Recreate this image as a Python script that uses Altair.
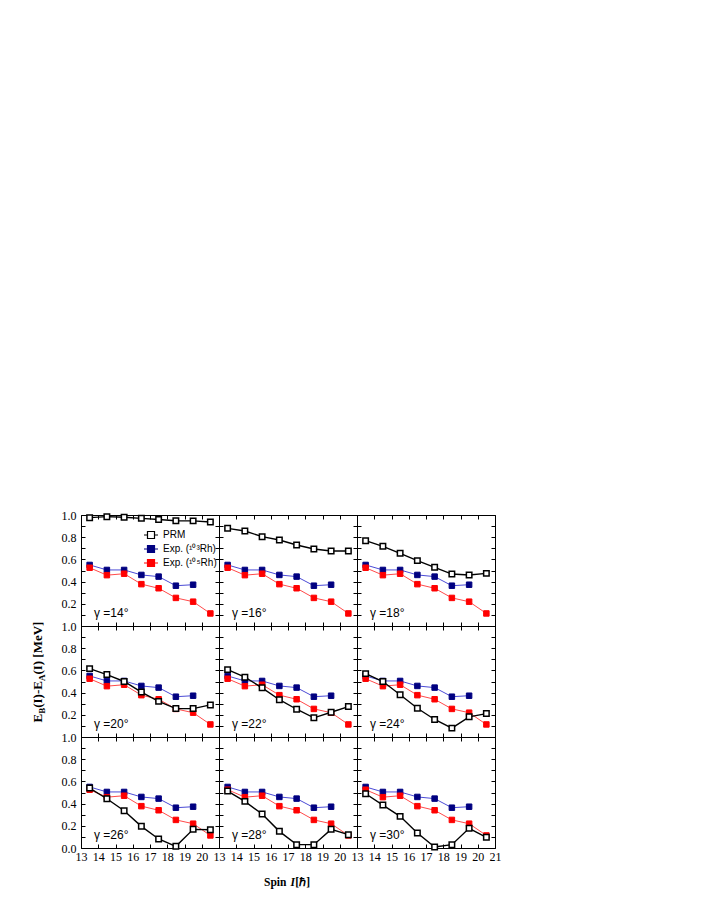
import altair as alt
import pandas as pd

# ---------------- data ----------------
spins = [13.5, 14.5, 15.5, 16.5, 17.5, 18.5, 19.5, 20.5]
exp103 = [0.55, 0.505, 0.505, 0.46, 0.445, 0.363, 0.372]
exp105 = [0.525, 0.458, 0.471, 0.377, 0.34, 0.253, 0.219, 0.113]
gammas = [14, 16, 18, 20, 22, 24, 26, 28, 30]
prm_14 = [0.976, 0.985, 0.98, 0.97, 0.96, 0.948, 0.947, 0.937]
prm_16 = [0.88, 0.856, 0.805, 0.775, 0.73, 0.694, 0.676, 0.676]
prm_18 = [0.769, 0.718, 0.655, 0.589, 0.529, 0.468, 0.459, 0.474]
prm_20 = [0.616, 0.5625, 0.5, 0.405, 0.321, 0.256, 0.256, 0.289]
prm_22 = [0.607, 0.539, 0.443, 0.336, 0.25, 0.173, 0.223, 0.274]
prm_24 = [0.571, 0.5, 0.381, 0.259, 0.158, 0.08, 0.182, 0.211]
prm_26 = [0.54, 0.444, 0.336, 0.195, 0.081, 0.015, 0.168, 0.165]
prm_28 = [0.513, 0.42, 0.306, 0.15, 0.03, 0.03, 0.168, 0.12]
prm_30 = [0.489, 0.387, 0.285, 0.135, 0.009, 0.03, 0.177, 0.096]
prm_all = [prm_14, prm_16, prm_18, prm_20, prm_22, prm_24, prm_26, prm_28, prm_30]

series_names = ["PRM", "Exp. (¹⁰³Rh)", "Exp. (¹⁰⁵Rh)"]
x_ticks = [13, 14, 15, 16, 17, 18, 19, 20, 21]
y_ticks = [0.0, 0.1, 0.2, 0.3, 0.4, 0.5, 0.6, 0.7, 0.8, 0.9, 1.0]

# ---------------- tables ----------------
exp103_df = pd.DataFrame({"spin": spins[:len(exp103)], "value": exp103, "series": series_names[1]})
exp105_df = pd.DataFrame({"spin": spins, "value": exp105, "series": series_names[2]})
exp_df = pd.concat([exp103_df, exp105_df], ignore_index=True)

W, H = 138, 111
SERIF = "Liberation Serif"
SANS = "Liberation Sans"
BLUE_LINE = "#4b4bd6"
RED_LINE = "#ff4a4a"

fill_scale = alt.Scale(domain=series_names, range=["white", "#000080", "#ff0000"])
stroke_scale = alt.Scale(domain=series_names, range=["black", "#000080", "#ff0000"])
xs = alt.Scale(domain=[13, 21], nice=False, zero=False)
ys = alt.Scale(domain=[0, 1], nice=False, zero=False)

SYMBOL = "M -1 0 L -0.5 0 M 0.5 0 L 1 0 M -0.5 -0.5 L 0.5 -0.5 L 0.5 0.5 L -0.5 0.5 Z"
legend = alt.Legend(
    title=None, orient="none", legendX=62, legendY=12,
    symbolType=SYMBOL, symbolSize=196, symbolStrokeWidth=1.2,
    labelFont=SANS, labelFontSize=10, labelColor="black", labelOffset=4,
    rowPadding=-2, padding=0,
)


def x_axis(orient, labels, last_col):
    expr = "datum.label" if last_col else "datum.value == 21 ? '' : datum.label"
    return alt.Axis(
        orient=orient, offset=-4, tickSize=4, tickColor="black", tickWidth=1,
        domain=False, grid=False, values=x_ticks, labels=labels,
        labelExpr=expr, labelFlush=False, labelOverlap=False, labelPadding=3,
        labelFont=SERIF, labelFontSize=12, labelColor="black", title=None,
    )


def y_axis(orient, labels, bottom_row):
    cond = "" if bottom_row else " && datum.value > 0.05"
    expr = "(round(datum.value*10) % 2 == 0" + cond + ") ? format(datum.value, '.1f') : ''"
    return alt.Axis(
        orient=orient, offset=-4, tickSize=4, tickColor="black", tickWidth=1,
        domain=False, grid=False, values=y_ticks, labels=labels,
        labelExpr=expr, labelOverlap=False, labelPadding=5, labelFlush=False,
        labelFont=SERIF, labelFontSize=12, labelColor="black", title=None,
    )


panels = []
for i, g in enumerate(gammas):
    row, col = divmod(i, 3)
    left_col = col == 0
    bottom_row = row == 2
    last_col = col == 2
    leg = legend if i == 0 else None
    prm_df = pd.DataFrame({"spin": spins, "value": prm_all[i], "series": series_names[0]})

    line103 = alt.Chart(exp103_df).mark_line(strokeWidth=1, color=BLUE_LINE).encode(
        x=alt.X("spin:Q", scale=xs, axis=x_axis("bottom", bottom_row, last_col)),
        y=alt.Y("value:Q", scale=ys, axis=y_axis("left", left_col, bottom_row)),
    )
    line105 = alt.Chart(exp105_df).mark_line(strokeWidth=1, color=RED_LINE).encode(
        x=alt.X("spin:Q", scale=xs, axis=None),
        y=alt.Y("value:Q", scale=ys, axis=None),
    )
    exp_pts = alt.Chart(exp_df).mark_square(size=30, strokeWidth=1, opacity=1).encode(
        x=alt.X("spin:Q", scale=xs, axis=x_axis("top", False, last_col)),
        y=alt.Y("value:Q", scale=ys, axis=y_axis("right", False, bottom_row)),
        fill=alt.Fill("series:N", scale=fill_scale, legend=leg),
        stroke=alt.Stroke("series:N", scale=stroke_scale, legend=leg),
    )
    prm_line = alt.Chart(prm_df).mark_line(strokeWidth=1.4, color="black").encode(
        x=alt.X("spin:Q", scale=xs, axis=None),
        y=alt.Y("value:Q", scale=ys, axis=None),
    )
    prm_pts = alt.Chart(prm_df).mark_square(size=30, strokeWidth=1.5, opacity=1).encode(
        x=alt.X("spin:Q", scale=xs, axis=None),
        y=alt.Y("value:Q", scale=ys, axis=None),
        fill=alt.Fill("series:N", scale=fill_scale, legend=leg),
        stroke=alt.Stroke("series:N", scale=stroke_scale, legend=leg),
    )
    glabel = alt.Chart(pd.DataFrame({"t": [f"γ ={g}°"]})).mark_text(
        align="left", baseline="alphabetic", font=SANS, fontSize=12, color="black"
    ).encode(x=alt.value(13), y=alt.value(102), text="t:N")

    layers = [line103, line105, exp_pts, prm_line, prm_pts, glabel]

    if i == 3:  # y title on middle-left panel
        pieces = [("E", 13, 0, -50.5), ("B", 9, 4, -41.8), ("(I)-E", 13, 0, -35.8),
                  ("A", 9, 4, -9.1), ("(I) [MeV]", 13, 0, -2.6)]
        for txt, fs, dy, dx in pieces:
            layers.append(
                alt.Chart(pd.DataFrame({"t": [txt]})).mark_text(
                    align="left", baseline="middle", angle=270, font=SERIF,
                    fontWeight="bold", fontSize=fs, dx=dx, dy=dy, color="black",
                ).encode(x=alt.value(-43), y=alt.value(46), text="t:N")
            )
    if i == 7:  # x title on bottom-middle panel
        pieces = [("Spin ", "normal", -24.0), ("I", "italic", 2.5), (" [ℏ]", "normal", 7.3)]
        for txt, style, dx in pieces:
            layers.append(
                alt.Chart(pd.DataFrame({"t": [txt]})).mark_text(
                    align="left", baseline="alphabetic", font=SERIF, fontWeight="bold",
                    fontStyle=style, fontSize=11.5, dx=dx, color="black",
                ).encode(x=alt.value(W / 2), y=alt.value(H + 38), text="t:N")
            )

    panel = alt.layer(*layers).resolve_axis(x="independent", y="independent").properties(
        width=W, height=H
    )
    panels.append(panel)

chart = alt.concat(*panels, columns=3, spacing=0, bounds="flush").resolve_scale(
    fill="independent", stroke="independent"
).properties(
    padding={"left": 23, "top": 500, "right": 5, "bottom": 5}
).configure_view(stroke="black", strokeWidth=1)

chart.save("out.html", embed_options={"renderer": "svg", "actions": False})
